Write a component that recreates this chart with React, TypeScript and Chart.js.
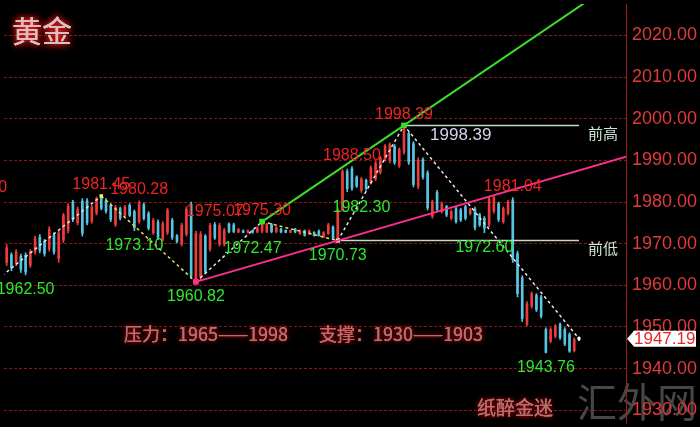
import React, { useEffect, useRef } from "react";
import { Chart, registerables } from "chart.js";

Chart.register(...registerables);

// ---- candle data (index = candle number, left to right) ----
const opens = [
  1965.5, 1967.3, 1965.2, 1967.0, 1967.2, 1964.8, 1968.0, 1971.6, 1970.5, 1968.8,
  1972.0, 1966.5, 1970.8, 1973.2, 1980.0, 1975.0, 1980.2, 1980.3, 1975.4, 1977.4,
  1981.0, 1980.3, 1979.2, 1974.6, 1978.4, 1976.8, 1979.2, 1977.7, 1975.3, 1979.4,
  1977.2, 1972.6, 1975.2, 1971.0, 1972.7, 1975.6, 1971.9, 1969.9, 1972.3, 1979.5,
  1961.4, 1962.0, 1971.8, 1968.7, 1974.6, 1969.9, 1969.9, 1974.7, 1974.5, 1972.8,
  1973.1, 1972.7, 1973.2, 1972.8, 1973.0, 1972.9, 1974.6, 1972.9, 1973.5, 1973.2,
  1972.7, 1973.5, 1972.4, 1973.1, 1972.4, 1972.7, 1973.0, 1971.6, 1972.4, 1974.0,
  1971.2, 1978.0, 1987.3, 1988.0, 1986.0, 1982.8, 1985.2, 1984.7, 1985.6, 1987.2,
  1990.3, 1990.0, 1993.4, 1988.8, 1992.0, 1996.5, 1994.0, 1983.8, 1990.2, 1987.0,
  1976.6, 1982.3, 1977.7, 1978.9, 1976.1, 1978.4, 1978.1, 1978.9, 1977.2, 1978.4,
  1977.0, 1976.1, 1974.6, 1977.8, 1979.6, 1975.3, 1977.3, 1980.5, 1967.6, 1961.8,
  1950.7, 1955.0, 1957.6, 1957.2, 1949.4, 1946.6, 1947.8, 1950.6, 1949.4, 1948.2,
  1944.3, 1947.19,
];
const highs = [
  1969.8, 1967.8, 1968.6, 1967.5, 1967.8, 1968.6, 1971.8, 1972.2, 1971.0, 1974.1,
  1972.6, 1973.0, 1977.3, 1979.6, 1980.4, 1978.8, 1980.8, 1980.8, 1979.2, 1981.2,
  1981.45, 1980.8, 1979.6, 1979.2, 1978.8, 1979.2, 1979.6, 1978.1, 1980.28, 1979.8,
  1977.7, 1976.1, 1975.7, 1975.3, 1978.5, 1976.1, 1972.2, 1974.9, 1978.8, 1980.0,
  1973.0, 1972.9, 1972.2, 1974.9, 1975.07, 1974.9, 1973.7, 1975.0, 1974.9, 1973.7,
  1973.3, 1973.3, 1973.3, 1974.1, 1975.3, 1974.9, 1974.9, 1974.1, 1973.7, 1973.3,
  1973.3, 1973.7, 1973.3, 1973.3, 1973.3, 1972.9, 1973.3, 1972.9, 1974.9, 1974.3,
  1978.6, 1987.8, 1987.9, 1988.5, 1986.3, 1985.9, 1985.5, 1988.7, 1989.8, 1991.0,
  1993.8, 1994.2, 1993.8, 1993.0, 1998.39, 1996.9, 1994.5, 1990.6, 1990.6, 1987.5,
  1980.4, 1982.8, 1980.0, 1979.2, 1978.1, 1978.8, 1978.5, 1979.2, 1978.5, 1978.8,
  1977.3, 1976.5, 1981.2, 1981.6, 1980.0, 1978.8, 1980.4, 1981.04, 1968.2, 1962.3,
  1956.1, 1958.4, 1958.0, 1957.6, 1949.8, 1949.8, 1950.6, 1951.0, 1949.8, 1948.6,
  1947.4, 1947.6,
];
const lows = [
  1964.7, 1963.5, 1964.7, 1963.1, 1962.5, 1964.3, 1967.5, 1967.8, 1967.0, 1968.2,
  1967.5, 1965.5, 1970.2, 1972.6, 1975.3, 1974.5, 1971.8, 1974.5, 1974.9, 1976.9,
  1978.1, 1977.3, 1975.3, 1974.1, 1975.7, 1976.5, 1976.5, 1973.1, 1974.9, 1975.7,
  1973.3, 1972.2, 1971.0, 1970.6, 1972.2, 1971.0, 1970.2, 1969.4, 1971.8, 1961.6,
  1960.82, 1961.2, 1962.7, 1968.2, 1971.0, 1969.4, 1969.4, 1972.6, 1972.6, 1972.6,
  1972.6, 1972.6, 1972.47, 1972.6, 1972.6, 1972.6, 1972.6, 1972.6, 1972.6, 1972.6,
  1972.6, 1972.6, 1972.2, 1971.8, 1972.2, 1971.8, 1971.8, 1971.4, 1972.2, 1970.9,
  1970.73, 1977.8, 1982.5, 1982.8, 1983.5, 1982.3, 1982.8, 1984.3, 1985.1, 1986.7,
  1989.8, 1989.4, 1989.0, 1988.3, 1991.5, 1989.0, 1983.6, 1983.2, 1985.5, 1978.1,
  1976.1, 1977.7, 1977.3, 1976.5, 1975.7, 1974.9, 1975.3, 1975.7, 1976.9, 1973.3,
  1974.1, 1972.6, 1974.1, 1977.3, 1975.3, 1974.9, 1976.9, 1965.5, 1957.2, 1951.3,
  1950.2, 1954.5, 1953.7, 1952.1, 1943.76, 1946.2, 1947.4, 1947.0, 1945.5, 1943.9,
  1944.0, 1946.7,
];
const closes = [
  1969.0, 1964.2, 1968.0, 1963.8, 1963.2, 1968.0, 1971.2, 1968.4, 1967.6, 1973.5,
  1968.0, 1972.5, 1976.8, 1979.0, 1975.8, 1978.3, 1972.5, 1975.0, 1978.8, 1980.8,
  1978.5, 1977.8, 1975.8, 1978.7, 1976.1, 1978.8, 1976.8, 1973.8, 1979.8, 1976.1,
  1973.7, 1975.6, 1971.5, 1974.8, 1978.0, 1971.5, 1970.5, 1974.4, 1978.3, 1962.2,
  1972.5, 1972.2, 1963.3, 1974.4, 1971.4, 1974.4, 1973.2, 1972.9, 1972.9, 1973.4,
  1972.7, 1973.1, 1972.8, 1973.8, 1974.8, 1974.6, 1972.9, 1973.8, 1972.8, 1972.7,
  1973.2, 1972.8, 1973.1, 1972.0, 1973.0, 1972.0, 1972.0, 1972.6, 1974.5, 1971.1,
  1978.0, 1987.3, 1983.2, 1983.3, 1983.8, 1985.5, 1983.2, 1988.2, 1989.3, 1990.6,
  1993.4, 1993.8, 1989.5, 1992.6, 1997.6, 1989.6, 1984.2, 1990.0, 1986.0, 1978.6,
  1980.0, 1978.2, 1979.6, 1976.9, 1977.7, 1975.3, 1975.7, 1976.1, 1978.2, 1973.8,
  1974.5, 1973.7, 1980.7, 1981.1, 1975.8, 1978.4, 1980.0, 1966.2, 1958.0, 1952.0,
  1955.6, 1958.0, 1954.1, 1952.6, 1943.9, 1949.4, 1950.2, 1947.4, 1945.9, 1944.2,
  1947.0, 1947.19,
];

const yTicks = [1930, 1940, 1950, 1960, 1970, 1980, 1990, 2000, 2010, 2020];
const currentPrice = 1947.19;

// pivot labels
const labelIdx = [-6, 4, 20, 27, 28, 40, 44, 52, 54, 70, 73, 75, 84, 107, 101, 114];
const labelVals = [1980.9, 1962.5, 1981.45, 1973.1, 1980.28, 1960.82, 1975.07, 1972.47, 1975.3, 1970.73, 1988.5, 1982.3, 1998.39, 1981.04, 1972.6, 1943.76];
const labelKind = ["h", "l", "h", "l", "h", "l", "h", "l", "h", "l", "h", "l", "h", "h", "l", "l"];

// zigzag (dashed)
const zigIdx = [-1, 20, 40, 54, 70, 84, 121];
const zigVals = [1962.3, 1981.45, 1960.82, 1975.3, 1970.73, 1998.39, 1947.19];
const zigLegColors = ["#e8e8e8", "#e6e05a", "#e8e8e8", "#e6e05a", "#e8e8e8", "#e8e8e8"];

// trend lines
const greenIdx = [54, 84, 124];
const greenVals = [1975.3, 1998.39, 2029.2];
const pinkIdx = [40, 70, 131];
const pinkVals = [1960.82, 1970.73, 1990.9];

// previous high / low horizontal lines
const prevHighIdx = [84, 121];
const prevHigh = 1998.39;
const prevLowIdx = [70, 121];
const prevLow = 1970.73;

const RED = "#ee3a3a";
const CYAN = "#56c4e2";
const WHITE = "#f0f0f0";
const NUM_FONT = '"Liberation Sans", Arial, sans-serif';
const CJK_FONT = '"Noto Sans CJK SC", sans-serif';

function glowText(ctx: CanvasRenderingContext2D, text: string, x: number, y: number, font: string, fill: string, glow: string, blur: number) {
  ctx.save();
  ctx.font = font;
  ctx.textAlign = "left";
  ctx.textBaseline = "middle";
  ctx.shadowColor = glow;
  ctx.shadowBlur = blur;
  ctx.fillStyle = fill;
  ctx.fillText(text, x, y);
  ctx.fillText(text, x, y);
  ctx.shadowBlur = 0;
  ctx.fillText(text, x, y);
  ctx.restore();
}

const bgPlugin = {
  id: "bgPlugin",
  beforeDraw(chart: any) {
    const { ctx, width, height } = chart;
    ctx.save();
    ctx.fillStyle = "#000";
    ctx.fillRect(0, 0, width, height);
    ctx.font = `40px ${CJK_FONT}`;
    ctx.fillStyle = "rgba(130,130,130,0.55)";
    ctx.textBaseline = "middle";
    ctx.textAlign = "left";
    ctx.fillText("汇外网", 577, 402);
    ctx.restore();
  },
};

const overlayPlugin = {
  id: "overlayPlugin",
  afterDatasetsDraw(chart: any) {
    const { ctx } = chart;
    const xs = chart.scales.x;
    const ys = chart.scales.y;
    ctx.save();
    ctx.textAlign = "center";
    ctx.textBaseline = "middle";
    ctx.font = `16px ${NUM_FONT}`;
    labelVals.forEach((v, k) => {
      const px = xs.getPixelForValue(labelIdx[k]);
      const py = ys.getPixelForValue(v) + (labelKind[k] === "h" ? -11 : 15);
      ctx.fillStyle = labelKind[k] === "h" ? "#f02424" : "#2ee82e";
      ctx.fillText(v.toFixed(2), px, py);
    });
    ctx.font = `17px ${NUM_FONT}`;
    ctx.fillStyle = "#d4d4ec";
    ctx.fillText(prevHigh.toFixed(2), xs.getPixelForValue(96), ys.getPixelForValue(prevHigh) + 10);
    ctx.font = `15px ${CJK_FONT}`;
    ctx.fillStyle = "#cce6d4";
    ctx.textAlign = "left";
    ctx.fillText("前高", xs.getPixelForValue(prevHighIdx[1]) + 9, ys.getPixelForValue(prevHigh) + 8);
    ctx.fillText("前低", xs.getPixelForValue(prevLowIdx[1]) + 9, ys.getPixelForValue(prevLow) + 8);
    ctx.restore();

    glowText(ctx, "黄金", 12, 31, `30px ${CJK_FONT}`, "#d6c0c0", "#ff1a1a", 7);
    const bf = `18px ${CJK_FONT}`;
    glowText(ctx, "压力：1965——1998", 124, 334, bf, "#a87474", "#b00000", 4);
    glowText(ctx, "支撑：1930——1903", 319, 334, bf, "#a87474", "#b00000", 4);
    glowText(ctx, "纸醉金迷", 477, 408, `19px ${CJK_FONT}`, "#a87474", "#b00000", 4);
  },
  afterDraw(chart: any) {
    const { ctx } = chart;
    const ys = chart.scales.y;
    const y = ys.getPixelForValue(currentPrice);
    const x0 = chart.chartArea.right + 1;
    ctx.save();
    ctx.beginPath();
    ctx.moveTo(x0, y);
    ctx.lineTo(x0 + 7, y - 8);
    ctx.lineTo(696, y - 8);
    ctx.lineTo(696, y + 8);
    ctx.lineTo(x0 + 7, y + 8);
    ctx.closePath();
    ctx.fillStyle = "#ffffff";
    ctx.fill();
    ctx.font = `17px ${NUM_FONT}`;
    ctx.fillStyle = "#e82828";
    ctx.textAlign = "left";
    ctx.textBaseline = "middle";
    ctx.fillText(currentPrice.toFixed(2), x0 + 7, y + 1);
    ctx.restore();
  },
};

export default function App() {
  const ref = useRef<HTMLCanvasElement>(null);
  useEffect(() => {
    const canvas = ref.current;
    if (!canvas) return;
    const idx = opens.map((_, i) => i);
    const colors = idx.map((i) => (closes[i] > opens[i] ? RED : closes[i] < opens[i] ? CYAN : WHITE));
    const pts = (ix: number[], vs: number[]) => ix.map((x, k) => ({ x, y: vs[k] }));

    const chart = new Chart(canvas, {
      type: "bar",
      data: {
        datasets: [
          {
            type: "bar",
            data: idx.map((i) => ({ x: i, y: [lows[i], highs[i]] })) as any,
            backgroundColor: colors,
            barThickness: 1,
            grouped: false,
            order: 10,
          },
          {
            type: "bar",
            data: idx.map((i) => ({ x: i, y: [opens[i], closes[i]] })) as any,
            backgroundColor: colors,
            barThickness: 2,
            minBarLength: 1,
            grouped: false,
            order: 9,
          },
          {
            type: "line",
            data: pts(zigIdx, zigVals) as any,
            borderColor: "#e8e8e8",
            borderWidth: 1.5,
            borderDash: [3, 3],
            segment: { borderColor: (c: any) => zigLegColors[c.p0DataIndex] },
            pointRadius: [0, 2.5, 0, 0, 0, 0, 2],
            pointStyle: "rect",
            pointBackgroundColor: ["#fff", "#f4f060", "#fff", "#fff", "#fff", "#fff", "#ffffff"],
            pointBorderWidth: 0,
            order: 5,
          },
          {
            type: "line",
            data: [{ x: prevHighIdx[0], y: prevHigh }, { x: prevHighIdx[1], y: prevHigh }] as any,
            borderColor: "#bcdcc8",
            borderWidth: 1.5,
            pointRadius: 0,
            order: 4,
          },
          {
            type: "line",
            data: [{ x: prevLowIdx[0], y: prevLow }, { x: prevLowIdx[1], y: prevLow }] as any,
            borderColor: "#bcdcc8",
            borderWidth: 1.5,
            pointRadius: [3, 0],
            pointStyle: "rect",
            pointBackgroundColor: "#ffd0e8",
            pointBorderWidth: 0,
            order: 4,
          },
          {
            type: "line",
            data: pts(pinkIdx, pinkVals) as any,
            borderColor: "#ff2f92",
            borderWidth: 2,
            pointRadius: [4, 0, 0],
            pointStyle: "rect",
            pointBackgroundColor: "#ff2f92",
            pointBorderWidth: 0,
            order: 3,
          },
          {
            type: "line",
            data: pts(greenIdx, greenVals) as any,
            borderColor: "#3ade2a",
            borderWidth: 2,
            pointRadius: [4, 4, 0],
            pointStyle: "rect",
            pointBackgroundColor: "#3ade2a",
            pointBorderWidth: 0,
            order: 2,
          },
        ],
      },
      options: {
        animation: false,
        responsive: false,
        devicePixelRatio: 1,
        layout: { padding: 0 },
        plugins: { legend: { display: false }, tooltip: { enabled: false } },
        scales: {
          x: {
            type: "linear",
            display: false,
            offset: false,
            min: -0.567,
            max: 130.94,
          },
          y: {
            position: "right",
            min: 1926.94,
            max: 2027.54,
            afterBuildTicks: (scale: any) => {
              scale.ticks = yTicks.map((v) => ({ value: v }));
            },
            afterFit: (scale: any) => {
              scale.width = 74;
              scale.paddingTop = 0;
              scale.paddingBottom = 0;
            },
            grid: { color: "#8e1414", lineWidth: 1, drawTicks: false },
            border: { display: true, color: "#a01c1c", width: 1, dash: [3, 2] },
            ticks: {
              padding: 6,
              color: "#e03a3a",
              font: { family: NUM_FONT, size: 18 },
              callback: (v: any) => Number(v).toFixed(2),
            },
          },
        },
      },
      plugins: [bgPlugin, overlayPlugin],
    } as any);
    return () => chart.destroy();
  }, []);
  return (
    <div style={{ position: "fixed", left: 0, top: 0, width: 700, height: 427, background: "#000" }}>
      <canvas ref={ref} width={700} height={427} style={{ display: "block" }} />
    </div>
  );
}
